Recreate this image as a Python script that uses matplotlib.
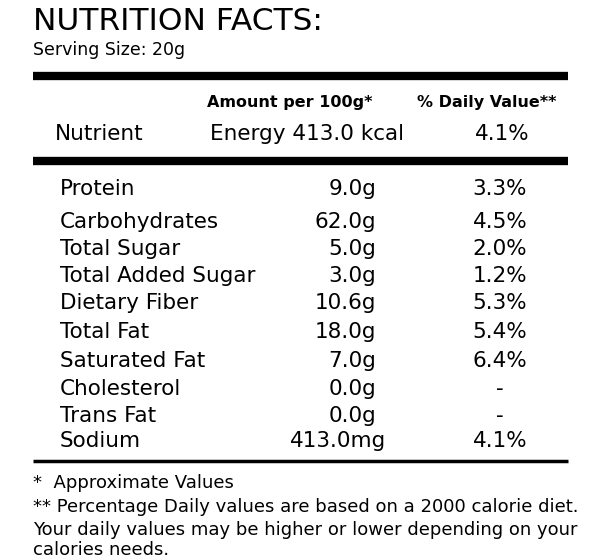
import matplotlib
matplotlib.use("Agg")
import matplotlib.pyplot as plt

title = "NUTRITION FACTS:"
serving = "Serving Size: 20g"
energy_value = "413.0 kcal"
energy_dv = "4.1%"
nutrients = ["Protein", "Carbohydrates", "Total Sugar", "Total Added Sugar", "Dietary Fiber",
             "Total Fat", "Saturated Fat", "Cholesterol", "Trans Fat", "Sodium"]
amounts = ["9.0g", "62.0g", "5.0g", "3.0g", "10.6g", "18.0g", "7.0g", "0.0g", "0.0g", "413.0mg"]
daily = ["3.3%", "4.5%", "2.0%", "1.2%", "5.3%", "5.4%", "6.4%", "-", "-", "4.1%"]
footnotes = ["*  Approximate Values",
             "** Percentage Daily values are based on a 2000 calorie diet.",
             "Your daily values may be higher or lower depending on your",
             "calories needs."]

plt.rcParams['font.family'] = ['DejaVu Sans']
fig = plt.figure(figsize=(6, 5.6), dpi=100)
ax = fig.add_axes([0, 0, 1, 1])
ax.set_xlim(0, 600); ax.set_ylim(560, 0); ax.axis('off')

ax.text(33, 22, title, fontsize=22.5, va='center', ha='left')
ax.text(33, 50, serving, fontsize=12.5, va='center', ha='left')
ax.plot([33, 568], [76, 76], color='black', lw=6, solid_capstyle='butt')
ax.text(290, 103, "Amount per 100g*", fontsize=11.5, fontweight='bold', ha='center', va='center')
ax.text(487, 103, "% Daily Value**", fontsize=11.5, fontweight='bold', ha='center', va='center')
ax.text(55, 134, "Nutrient", fontsize=15.5, ha='left', va='center')
ax.text(210, 134, "Energy " + energy_value, fontsize=15.5, ha='left', va='center')
ax.text(502, 134, energy_dv, fontsize=15.5, ha='center', va='center')
ax.plot([33, 568], [161, 161], color='black', lw=6, solid_capstyle='butt')

ys = [189, 222, 249, 276, 303, 332, 361, 389, 416, 441]
for y, n, a, d in zip(ys, nutrients, amounts, daily):
    ax.text(60, y, n, fontsize=15.5, ha='left', va='center')
    xr = 386 if a.endswith('mg') else 376
    ax.text(xr, y, a, fontsize=15.5, ha='right', va='center')
    ax.text(500, y, d, fontsize=15.5, ha='center', va='center')
ax.plot([33, 568], [461, 461], color='black', lw=2.5, solid_capstyle='butt')

for y, t in zip([483, 507, 530, 550], footnotes):
    ax.text(33, y, t, fontsize=13, ha='left', va='center')

fig.savefig("out.png", dpi=100)
